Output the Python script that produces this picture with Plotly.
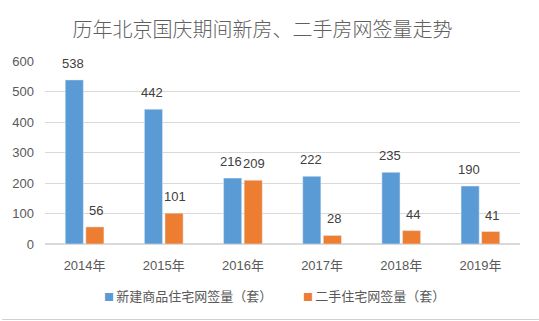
import plotly.graph_objects as go

years = ["2014年", "2015年", "2016年", "2017年", "2018年", "2019年"]
new_homes = [538, 442, 216, 222, 235, 190]
second_hand = [56, 101, 209, 28, 44, 41]
series_names = ["新建商品住宅网签量（套）", "二手住宅网签量（套）"]
title_text = "历年北京国庆期间新房、二手房网签量走势"

BLUE = "#5B9BD5"
ORANGE = "#ED7D31"
TXT = "#595959"
FONT = "Liberation Sans, Noto Sans CJK SC, sans-serif"
CJK = "Noto Sans CJK SC, sans-serif"

W, H = 539, 321
L, R, T, B = 43, 19, 61, 77
PW, PH = W - L - R, H - T - B

fig = go.Figure()
fig.add_trace(go.Bar(x=years, y=new_homes, name=series_names[0], marker_color=BLUE))
fig.add_trace(go.Bar(x=years, y=second_hand, name=series_names[1], marker_color=ORANGE))

annotations = []
for xs, vals, shift in [(years, new_homes, -11.5), (years, second_hand, 11.5)]:
    for x, v in zip(xs, vals):
        annotations.append(dict(
            x=x, y=v, xref="x", yref="y", text=str(v), showarrow=False,
            xshift=shift, yshift=7, yanchor="bottom",
            font=dict(size=13, color="#404040", family=FONT)))

# custom legend (small squares placed right before the text)
legend_px = [100, 300]
for name, color, px in zip(series_names, [BLUE, ORANGE], legend_px):
    annotations.append(dict(
        x=(px - L) / PW, y=(B - 26) / -PH, xref="paper", yref="paper",
        xanchor="left", yanchor="middle", showarrow=False,
        text=f'<span style="color:{color};font-size:10px">■ </span>{name}',
        font=dict(size=13, color=TXT, family=CJK)))

fig.update_layout(
    width=W, height=H,
    margin=dict(l=L, r=R, t=T, b=B),
    paper_bgcolor="white", plot_bgcolor="white",
    barmode="group", bargap=0.48, bargroupgap=0.12,
    title=dict(text=title_text, x=0.487, xanchor="center", y=0.905, yanchor="middle",
               font=dict(size=20, color="#606060", family=CJK, weight=300)),
    font=dict(family=FONT, color=TXT, size=13),
    xaxis=dict(showline=True, linecolor="#D9D9D9", linewidth=1, ticks="",
               tickfont=dict(size=13, color=TXT), showgrid=False,
               ticklabelstandoff=9),
    yaxis=dict(range=[0, 600], dtick=100, showgrid=True, gridcolor="#D9D9D9",
               zeroline=True, zerolinecolor="#D9D9D9", ticks="",
               tickfont=dict(size=13, color=TXT), ticklabelstandoff=10),
    showlegend=False,
    annotations=annotations,
    shapes=[dict(type="line", xref="paper", yref="paper",
                 x0=-L / PW, x1=1 + R / PW, y0=-(B - 1.5) / PH, y1=-(B - 1.5) / PH,
                 line=dict(color="#D0D0D0", width=1))],
)
fig.write_html("out.html")
